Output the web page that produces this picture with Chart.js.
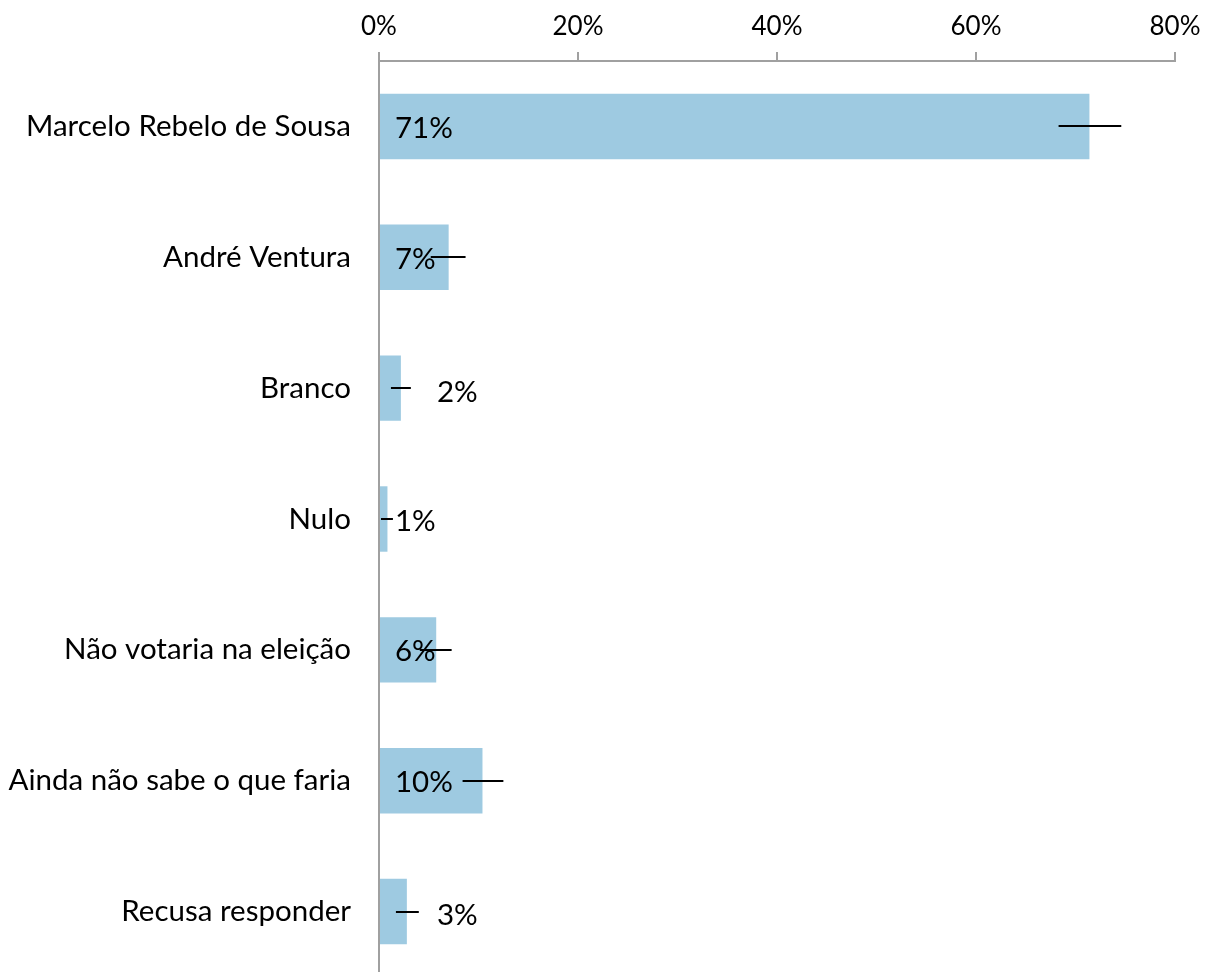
<!DOCTYPE html>
<html>
<head>
<meta charset="utf-8">
<script src="https://cdn.jsdelivr.net/npm/chart.js@4"></script>
<style>
html,body{margin:0;padding:0;background:#fff;overflow:hidden;}
canvas{display:block;}
</style>
</head>
<body>
<canvas id="chart" width="1208" height="977"></canvas>
<script>
const categories = ['Marcelo Rebelo de Sousa', 'André Ventura', 'Branco', 'Nulo',
  'Não votaria na eleição', 'Ainda não sabe o que faria', 'Recusa responder'];
const shares = [71.4, 7.0, 2.2, 0.85, 5.75, 10.4, 2.8];
const errLow = [68.3, 5.2, 1.2, 0.2, 4.1, 8.4, 1.7];
const errHigh = [74.6, 8.7, 3.2, 1.4, 7.3, 12.5, 4.0];
const labelOutside = [false, false, true, false, false, false, true];
const xTicks = [0, 20, 40, 60, 80];

const axisGray = '#a0a0a0';

// error bars and value labels
const extras = {
  id: 'extras',
  afterDatasetsDraw(chart) {
    const c = chart.ctx, xs = chart.scales.x, ys = chart.scales.y;
    c.save();
    c.font = '29.5px Lato';
    c.fillStyle = '#000';
    c.textBaseline = 'middle';
    c.textAlign = 'left';
    shares.forEach((v, i) => {
      const y = ys.getPixelForValue(i);
      const x0 = xs.getPixelForValue(0);
      const tx = labelOutside[i] ? x0 + 58 : x0 + 16;
      c.fillText(Math.round(v) + '%', tx, labelOutside[i] ? y + 4 : y + 2);
    });
    c.strokeStyle = '#000';
    c.lineWidth = 2;
    shares.forEach((v, i) => {
      const y = Math.round(ys.getPixelForValue(i));
      c.beginPath();
      c.moveTo(xs.getPixelForValue(errLow[i]), y);
      c.lineTo(xs.getPixelForValue(errHigh[i]), y);
      c.stroke();
    });
    c.restore();
  }
};

new Chart(document.getElementById('chart'), {
  type: 'bar',
  data: {
    labels: categories,
    datasets: [{
      data: shares,
      backgroundColor: '#9ecae1',
      borderWidth: 0,
      barPercentage: 0.5,
      categoryPercentage: 1
    }]
  },
  options: {
    indexAxis: 'y',
    responsive: false,
    animation: false,
    layout: { padding: { left: 0, right: 33, top: 0, bottom: 0 } },
    plugins: { legend: { display: false }, tooltip: { enabled: false } },
    scales: {
      x: {
        position: 'top',
        min: 0, max: 80,
        afterBuildTicks: s => { s.ticks = xTicks.map(v => ({ value: v })); },
        afterFit: s => { s.height = 61; s.paddingLeft = 0; s.paddingRight = 0; },
        grid: { drawOnChartArea: false, drawTicks: true, tickLength: 9, color: axisGray, lineWidth: 2 },
        border: { display: true, color: axisGray, width: 2 },
        ticks: {
          callback: v => v + '%',
          font: { family: 'Lato', size: 26 },
          color: '#000',
          padding: 10,
          maxRotation: 0
        }
      },
      y: {
        afterFit: s => { s.width = 379; s.paddingTop = 0; s.paddingBottom = 0; },
        grid: { display: true, drawOnChartArea: false, drawTicks: false },
        border: { display: true, color: axisGray, width: 2 },
        ticks: {
          font: { family: 'Lato', size: 29.5 },
          color: '#000',
          padding: 28
        }
      }
    }
  },
  plugins: [extras]
});
</script>
</body>
</html>
